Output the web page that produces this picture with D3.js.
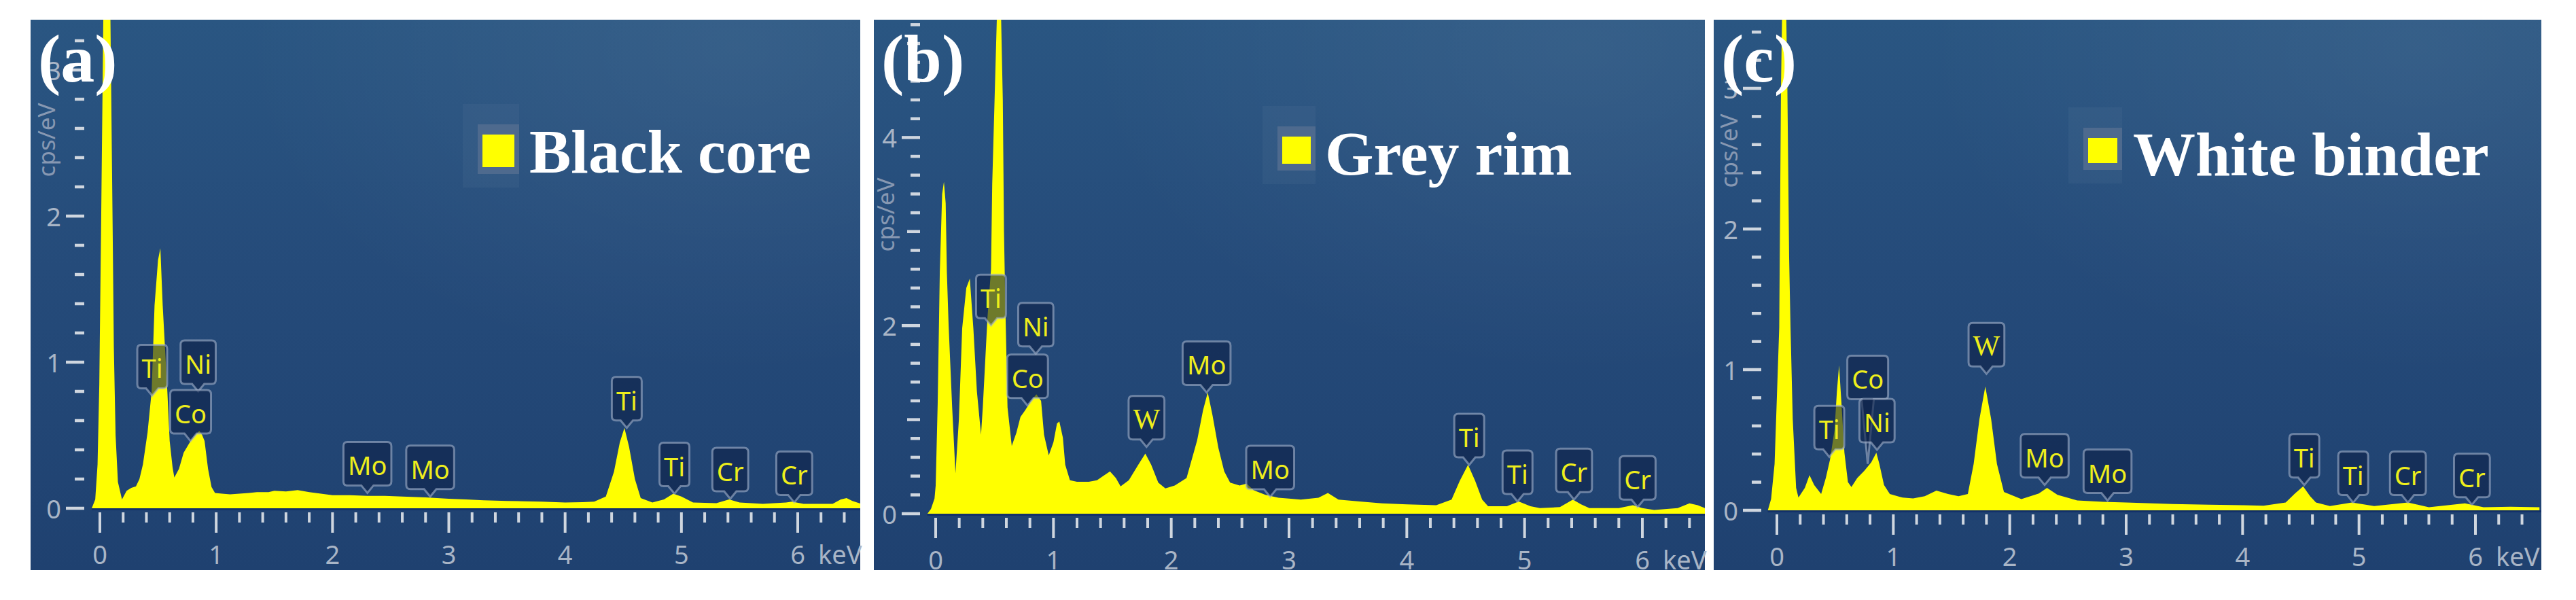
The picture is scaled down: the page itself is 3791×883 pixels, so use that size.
<!DOCTYPE html>
<html>
<head>
<meta charset="utf-8">
<style>
body { margin: 0; background: #fff; }
svg { display: block; }
.tlab { font-family: "Noto Sans", sans-serif; font-size: 38px; fill: #a9b5c6; }
.ylab { font-family: "Noto Sans", sans-serif; font-size: 35px; fill: #8798b2; }
.plab { font-family: "Noto Sans", sans-serif; font-size: 38px; fill: #eeee1c; }
.big  { font-family: "Liberation Serif", "Times New Roman", serif; font-weight: bold; fill: #fff; }
</style>
</head>
<body>
<svg id="chart" width="3791" height="883"></svg>
<script src="https://cdn.jsdelivr.net/npm/d3@7/dist/d3.min.js"></script>
<script>
// spectra: [keV, cps/eV]
var blackCore = [[-0.07,0],[-0.04,0.06],[-0.02,0.3],[-0.005,0.85],[0.01,1.9],[0.03,3.4],[0.06,4.5],[0.09,3.4],[0.11,1.9],[0.12,1.1],
  [0.135,0.5],[0.155,0.18],[0.19,0.06],[0.23,0.12],[0.27,0.14],[0.31,0.15],[0.34,0.2],[0.37,0.3],[0.41,0.52],[0.445,0.8],
  [0.47,1.39],[0.5,1.7],[0.52,1.78],[0.54,1.39],[0.58,0.8],[0.6,0.46],[0.625,0.28],[0.64,0.21],[0.68,0.27],[0.72,0.38],
  [0.78,0.46],[0.82,0.5],[0.855,0.53],[0.88,0.5],[0.9,0.46],[0.93,0.27],[0.96,0.145],[0.99,0.105],[1.05,0.1],[1.12,0.095],
  [1.2,0.1],[1.28,0.105],[1.35,0.11],[1.45,0.11],[1.5,0.12],[1.6,0.115],[1.7,0.125],[1.8,0.11],[1.9,0.1],[2.0,0.09],
  [2.15,0.09],[2.3,0.085],[2.45,0.085],[2.6,0.08],[2.8,0.075],[3.0,0.065],[3.15,0.06],[3.3,0.055],[3.5,0.05],[3.65,0.048],
  [3.8,0.045],[4.0,0.04],[4.15,0.042],[4.25,0.045],[4.35,0.08],[4.42,0.25],[4.47,0.45],[4.51,0.55],[4.55,0.42],[4.6,0.2],
  [4.65,0.07],[4.75,0.04],[4.85,0.06],[4.93,0.1],[5.0,0.08],[5.1,0.04],[5.3,0.035],[5.41,0.06],[5.5,0.04],[5.7,0.03],
  [5.9,0.04],[5.95,0.045],[6.05,0.03],[6.3,0.03],[6.37,0.06],[6.42,0.07],[6.47,0.05],[6.55,0.03]];

var greyRim = [[-0.07,0],[-0.04,0.05],[-0.01,0.16],[0.0,0.3],[0.017,1.17],[0.035,2.57],[0.055,3.4],[0.07,3.53],[0.085,3.3],[0.095,2.57],
  [0.11,2.0],[0.14,1.13],[0.168,0.43],[0.197,1.0],[0.225,1.97],[0.26,2.4],[0.29,2.5],[0.32,1.97],[0.35,1.3],[0.385,0.84],
  [0.4,1.13],[0.44,2.09],[0.47,2.6],[0.48,3.5],[0.5,4.4],[0.52,5.3],[0.537,5.8],[0.555,5.3],[0.57,4.4],[0.58,3.0],
  [0.59,2.3],[0.61,1.13],[0.646,0.72],[0.685,0.86],[0.72,1.03],[0.76,1.1],[0.81,1.2],[0.855,1.27],[0.895,1.2],[0.92,0.84],
  [0.96,0.62],[1.0,0.76],[1.03,0.96],[1.05,0.98],[1.08,0.81],[1.1,0.52],[1.14,0.355],[1.2,0.34],[1.3,0.34],[1.37,0.355],
  [1.42,0.4],[1.48,0.45],[1.53,0.38],[1.57,0.29],[1.64,0.355],[1.72,0.52],[1.78,0.64],[1.83,0.52],[1.89,0.33],[1.95,0.27],
  [2.03,0.3],[2.13,0.38],[2.22,0.78],[2.27,1.1],[2.31,1.29],[2.35,1.05],[2.4,0.7],[2.45,0.45],[2.5,0.33],[2.58,0.3],
  [2.64,0.32],[2.7,0.25],[2.8,0.2],[2.91,0.17],[3.0,0.16],[3.1,0.15],[3.25,0.17],[3.33,0.22],[3.42,0.15],[3.6,0.13],
  [3.79,0.11],[4.0,0.1],[4.25,0.09],[4.38,0.15],[4.45,0.35],[4.52,0.52],[4.58,0.35],[4.64,0.15],[4.69,0.08],[4.85,0.08],
  [4.95,0.13],[5.05,0.08],[5.13,0.06],[5.3,0.07],[5.41,0.15],[5.48,0.1],[5.55,0.06],[5.8,0.06],[5.92,0.09],[6.0,0.06],
  [6.1,0.04],[6.3,0.06],[6.4,0.11],[6.47,0.09],[6.55,0.05]];

var whiteBinder = [[-0.078,0],[-0.05,0.08],[-0.02,0.33],[0.0,0.81],[0.02,1.3],[0.035,3.0],[0.05,3.8],[0.06,4.2],[0.075,3.8],[0.09,3.0],
  [0.105,1.8],[0.117,1.3],[0.136,0.65],[0.165,0.16],[0.185,0.09],[0.24,0.16],[0.28,0.25],[0.32,0.18],[0.38,0.116],[0.42,0.23],
  [0.456,0.36],[0.495,0.57],[0.515,0.84],[0.534,1.03],[0.553,0.78],[0.58,0.41],[0.61,0.2],[0.64,0.165],[0.69,0.23],[0.75,0.28],
  [0.81,0.34],[0.854,0.41],[0.88,0.33],[0.92,0.18],[0.97,0.116],[1.08,0.09],[1.17,0.084],[1.27,0.1],[1.37,0.14],[1.47,0.116],
  [1.56,0.1],[1.64,0.116],[1.69,0.33],[1.74,0.65],[1.79,0.88],[1.84,0.65],[1.89,0.33],[1.95,0.13],[2.1,0.08],[2.25,0.12],
  [2.32,0.16],[2.41,0.11],[2.58,0.07],[2.8,0.06],[3.0,0.055],[3.4,0.045],[3.71,0.04],[4.0,0.036],[4.18,0.033],[4.37,0.055],
  [4.45,0.12],[4.52,0.17],[4.58,0.1],[4.63,0.055],[4.75,0.03],[4.94,0.055],[5.13,0.03],[5.42,0.055],[5.6,0.022],[5.91,0.05],
  [6.07,0.022],[6.3,0.025],[6.55,0.022]];

// peak markers: [element, keV, cps/eV at pointer tip, cps/eV at box bottom (optional)]
var peaksBlackCore = [["Ti",0.45,0.77],["Ni",0.845,0.8],["Co",0.78,0.46],["Mo",2.30,0.105],["Mo",2.84,0.08],
  ["Ti",4.53,0.55],["Ti",4.94,0.1],["Cr",5.42,0.065],["Cr",5.97,0.04]];
var peaksGreyRim = [["Ti",0.47,2.0],["Ni",0.85,1.7],["Co",0.78,1.15],["W",1.79,0.71],["Mo",2.30,1.29],["Mo",2.84,0.18],
  ["Ti",4.53,0.52],["Ti",4.94,0.13],["Cr",5.42,0.15],["Cr",5.96,0.07]];
var peaksWhiteBinder = [["Ti",0.45,0.38],["Co",0.78,0.33,0.79],["Ni",0.86,0.43],["W",1.80,0.97],["Mo",2.30,0.18],["Mo",2.84,0.07],
  ["Ti",4.53,0.18],["Ti",4.95,0.055],["Cr",5.42,0.055],["Cr",5.97,0.04]];

var panelTags = ["(a)", "(b)", "(c)"];
var legendNames = ["Black core", "Grey rim", "White binder"];
var xTickLabels = [0, 1, 2, 3, 4, 5, 6];
var yLabelsA = [0, 1, 2, 3], yLabelsB = [0, 2, 4], yLabelsC = [0, 1, 2, 3];

var panels = [
  {data: blackCore, peaks: peaksBlackCore, yLabels: yLabelsA, yMid: [], yMax: 3.2,
   left: 45, right: 1266, x0: 147, x6: 1174, y0: 748, unit: 215,
   cps: [67, 206], leg: [703, 183, 61, 73], legText: [779, 254]},
  {data: greyRim, peaks: peaksGreyRim, yLabels: yLabelsB, yMid: [1, 3, 5], yMax: 5.2,
   left: 1286, right: 2509, x0: 1377, x6: 2417, y0: 756, unit: 138.4,
   cps: [1302, 316], leg: [1880, 186, 56, 65], legText: [1950, 257]},
  {data: whiteBinder, peaks: peaksWhiteBinder, yLabels: yLabelsC, yMid: [], yMax: 3.4,
   left: 2522, right: 3740, x0: 2615, x6: 3643, y0: 751, unit: 207,
   cps: [2543, 222], leg: [3066, 188, 57, 62], legText: [3139, 258]}
];

var frameTop = 29, frameBottom = 839;
var svg = d3.select("#chart");
var defs = svg.append("defs");

var bg = defs.append("linearGradient").attr("id", "bg").attr("x1", 0).attr("y1", 0).attr("x2", 0).attr("y2", 1);
bg.append("stop").attr("offset", "0%").attr("stop-color", "#2a5682");
bg.append("stop").attr("offset", "45%").attr("stop-color", "#254b7a");
bg.append("stop").attr("offset", "100%").attr("stop-color", "#1f4170");

var glow = defs.append("radialGradient").attr("id", "glow").attr("cx", 0.85).attr("cy", 0.05).attr("r", 0.6);
glow.append("stop").attr("offset", "0%").attr("stop-color", "#fff").attr("stop-opacity", 0.06);
glow.append("stop").attr("offset", "100%").attr("stop-color", "#fff").attr("stop-opacity", 0);

panels.forEach(function(p, i) {
  var g = svg.append("g");
  var x = d3.scaleLinear().domain([0, 6]).range([p.x0, p.x6]);
  var y = d3.scaleLinear().domain([0, 1]).range([p.y0, p.y0 - p.unit]);

  g.append("rect").attr("x", p.left).attr("y", frameTop).attr("width", p.right - p.left).attr("height", frameBottom - frameTop)
    .attr("fill", "url(#bg)");
  g.append("rect").attr("x", p.left).attr("y", frameTop).attr("width", p.right - p.left).attr("height", frameBottom - frameTop)
    .attr("fill", "url(#glow)");

  // legend
  var L = p.leg;
  g.append("rect").attr("x", L[0] - 22).attr("y", L[1] - 30).attr("width", L[2] + 22).attr("height", L[3] + 50)
    .attr("fill", "#fff").attr("opacity", 0.035);
  g.append("rect").attr("x", L[0]).attr("y", L[1]).attr("width", L[2]).attr("height", L[3])
    .attr("fill", "#4e6a8e");
  g.append("rect").attr("x", L[0] + 7).attr("y", L[1] + 15).attr("width", L[2] - 14).attr("height", L[3] - 25)
    .attr("fill", "#ffff00");
  g.append("text").attr("class", "big").attr("x", p.legText[0]).attr("y", p.legText[1])
    .style("font-size", "92px").text(legendNames[i]);

  // y axis
  var tickRight = p.x0 - 23;
  var yTicks = d3.range(0, p.yMax + 0.001, 0.2).map(function(v) { return Math.round(v * 10) / 10; });
  g.selectAll(".yt").data(yTicks).enter().append("line")
    .attr("x1", function(v) {
      if (p.yLabels.indexOf(v) >= 0) return tickRight - 27;
      if (p.yMid.indexOf(v) >= 0) return tickRight - 19;
      return tickRight - 14;
    })
    .attr("x2", tickRight)
    .attr("y1", function(v) { return y(v); }).attr("y2", function(v) { return y(v); })
    .attr("stroke", "#cfd6df").attr("stroke-width", 4.5);
  g.selectAll(".yl").data(p.yLabels).enter().append("text").attr("class", "tlab")
    .attr("x", tickRight - 34).attr("y", function(v) { return y(v); })
    .attr("text-anchor", "end").attr("dominant-baseline", "central").text(function(v) { return v; });
  g.append("text").attr("class", "ylab")
    .attr("transform", "translate(" + p.cps[0] + "," + p.cps[1] + ") rotate(-90)")
    .attr("text-anchor", "middle").attr("dominant-baseline", "central").text("cps/eV");

  // x axis
  var xTicks = d3.range(0, 6.41, 0.2).map(function(v) { return Math.round(v * 10) / 10; });
  g.selectAll(".xt").data(xTicks).enter().append("line")
    .attr("x1", function(v) { return x(v); }).attr("x2", function(v) { return x(v); })
    .attr("y1", p.y0 + 6)
    .attr("y2", function(v) { return p.y0 + 6 + (xTickLabels.indexOf(v) >= 0 ? 30 : 15); })
    .attr("stroke", "#cfd6df").attr("stroke-width", 4);
  g.selectAll(".xl").data(xTickLabels).enter().append("text").attr("class", "tlab")
    .attr("x", function(v) { return x(v); }).attr("y", p.y0 + 67)
    .attr("text-anchor", "middle").attr("dominant-baseline", "central").text(function(v) { return v; });
  g.append("text").attr("class", "tlab").attr("x", x(6) + 30).attr("y", p.y0 + 67)
    .attr("dominant-baseline", "central").text("keV");

  // spectrum
  var clipId = "clip" + i;
  defs.append("clipPath").attr("id", clipId).append("rect")
    .attr("x", p.left).attr("y", frameTop).attr("width", p.right - p.left).attr("height", p.y0 - frameTop);
  var area = d3.area().x(function(d) { return x(d[0]); }).y0(p.y0).y1(function(d) { return y(d[1]); });
  g.append("path").datum(p.data).attr("d", area).attr("fill", "#ffff00").attr("clip-path", "url(#" + clipId + ")");
  g.append("line").attr("x1", x(p.data[0][0])).attr("x2", p.right).attr("y1", p.y0 + 1.5).attr("y2", p.y0 + 1.5)
    .attr("stroke", "#12306a").attr("stroke-width", 3);

  // peak markers
  p.peaks.forEach(function(pk) {
    var cx = x(pk[1]), tipY = y(pk[2]);
    var bot = pk.length > 3 ? y(pk[3]) : tipY - 11;
    var h = 64, r = 6, n = 9;
    var mg = g.append("g");
    var path = mg.append("path");
    var t = mg.append("text").attr("class", "plab").attr("x", cx).attr("y", bot - h / 2 + 2)
      .attr("text-anchor", "middle").attr("dominant-baseline", "central").text(pk[0]);
    if (pk[0] === "W") t.style("font-family", "'Liberation Serif', serif").style("font-size", "42px");
    var w = t.node().getComputedTextLength() + 13;
    var l = cx - w / 2, rr = cx + w / 2, tp = bot - h;
    path.attr("d", "M" + (l + r) + "," + tp + "H" + (rr - r) + "Q" + rr + "," + tp + " " + rr + "," + (tp + r) +
      "V" + (bot - r) + "Q" + rr + "," + bot + " " + (rr - r) + "," + bot + "H" + (cx + n) + "L" + cx + "," + tipY +
      "L" + (cx - n) + "," + bot + "H" + (l + r) + "Q" + l + "," + bot + " " + l + "," + (bot - r) +
      "V" + (tp + r) + "Q" + l + "," + tp + " " + (l + r) + "," + tp + "Z")
      .attr("fill", "#0d2248").attr("fill-opacity", 0.6)
      .attr("stroke", "#a3b3cc").attr("stroke-opacity", 0.6).attr("stroke-width", 3);
  });

  // panel tag
  g.append("text").attr("class", "big").attr("x", p.left + 11).attr("y", 120)
    .style("font-size", "100px").text(panelTags[i]);
});
</script>
</body>
</html>
